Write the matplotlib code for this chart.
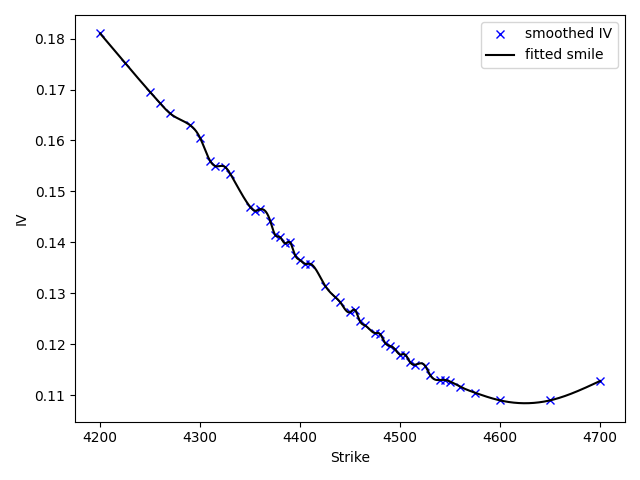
import matplotlib
matplotlib.use("Agg")
import matplotlib.pyplot as plt
import numpy as np

strikes = [4200, 4225, 4250, 4260, 4270, 4290, 4300, 4310, 4315, 4325, 4330,
           4350, 4355, 4360, 4370, 4375, 4380, 4385, 4390, 4395, 4400, 4405,
           4410, 4425, 4435, 4440, 4450, 4455, 4460, 4465, 4475, 4480, 4485,
           4490, 4495, 4500, 4505, 4510, 4515, 4525, 4530, 4540, 4545, 4550,
           4560, 4575, 4600, 4650, 4700]
iv = [0.1810, 0.1752, 0.1695, 0.1673, 0.1653, 0.1630, 0.1605, 0.1560, 0.1550,
      0.1548, 0.1535, 0.1470, 0.1462, 0.1465, 0.1443, 0.1415, 0.1410, 0.1398,
      0.1400, 0.1375, 0.1365, 0.1358, 0.1358, 0.1315, 0.1293, 0.1283, 0.1263,
      0.1267, 0.1245, 0.1237, 0.1222, 0.1220, 0.1203, 0.1197, 0.1190, 0.1180,
      0.1180, 0.1165, 0.1160, 0.1158, 0.1140, 0.1130, 0.1130, 0.1127, 0.1117,
      0.1105, 0.1090, 0.1090, 0.1128]


def natural_spline(x, y, xs):
    x = np.asarray(x, float)
    y = np.asarray(y, float)
    n = len(x)
    h = np.diff(x)
    A = np.zeros((n, n))
    b = np.zeros(n)
    A[0, 0] = A[-1, -1] = 1
    for i in range(1, n - 1):
        A[i, i - 1] = h[i - 1]
        A[i, i] = 2 * (h[i - 1] + h[i])
        A[i, i + 1] = h[i]
        b[i] = 6 * ((y[i + 1] - y[i]) / h[i] - (y[i] - y[i - 1]) / h[i - 1])
    m = np.linalg.solve(A, b)
    idx = np.clip(np.searchsorted(x, xs) - 1, 0, n - 2)
    x0, x1 = x[idx], x[idx + 1]
    hh = x1 - x0
    t0, t1 = x1 - xs, xs - x0
    return (m[idx] * t0**3 / (6 * hh) + m[idx + 1] * t1**3 / (6 * hh)
            + (y[idx] / hh - m[idx] * hh / 6) * t0
            + (y[idx + 1] / hh - m[idx + 1] * hh / 6) * t1)


xs = np.linspace(strikes[0], strikes[-1], 500)
fig, ax = plt.subplots(figsize=(6.4, 4.8))
ax.plot(strikes, iv, "bx", label="smoothed IV")
ax.plot(xs, natural_spline(strikes, iv, xs), "k-", label="fitted smile")
ax.set_xlabel("Strike")
ax.set_ylabel("IV")
ax.legend()
fig.tight_layout()
fig.savefig("out.png", dpi=100)
